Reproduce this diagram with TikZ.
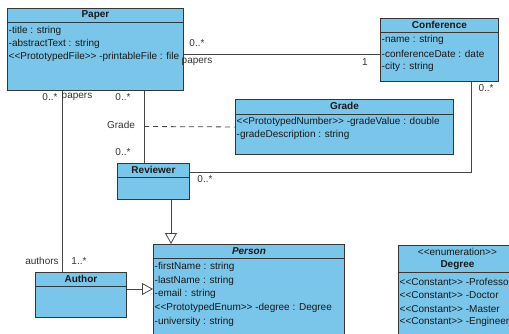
\documentclass[tikz,border=0pt]{standalone}
\usepackage{fontspec}
\newfontfamily\umlfont{Liberation Sans}
\usetikzlibrary{arrows.meta,calc}
\definecolor{classfill}{RGB}{122,198,235}
\definecolor{classline}{RGB}{55,55,55}
\definecolor{wire}{RGB}{70,70,70}
\definecolor{ink}{RGB}{25,25,25}
\begin{document}
\begin{tikzpicture}[x=1pt,y=-1pt,
  classbox/.style={draw=classline, fill=classfill, line width=0.9pt, inner sep=0pt, anchor=north west},
  classname/.style={font=\umlfont\fontsize{10}{12}\selectfont\bfseries, inner sep=0pt, text=ink},
  stereo/.style={font=\umlfont\fontsize{10}{12}\selectfont, inner sep=0pt, text=ink},
  attr/.style={font=\umlfont\fontsize{10}{12}\selectfont, inner sep=0pt, anchor=west, text=ink},
  role/.style={font=\umlfont\fontsize{10}{12}\selectfont, inner sep=0pt, text=black!80},
  sep/.style={draw=classline, line width=0.9pt},
  assoc/.style={draw=wire, line width=0.8pt},
  gen/.style={draw=wire, line width=0.8pt, -{Triangle[open, length=11pt, width=12pt, fill=white]}},
  dep/.style={draw=wire, line width=0.8pt, dash pattern=on 5pt off 4pt}]

\useasboundingbox (0,0) rectangle (509,333);

% ---------- classes ----------
\node[classbox, minimum width=176pt, minimum height=82pt] (paper) at (7,8) {};
\draw[sep] ($(paper.north west)+(0,14.5)$) -- ($(paper.north east)+(0,14.5)$);
\node[classname] (paper-name) at ($(paper.north)+(0,7.3)$) {Paper};
\foreach \t [count=\i] in {-title : string, -abstractText : string, <<PrototypedFile>> -printableFile : file}
  \node[attr] (paper-a\i) at ($(paper.north west)+(1.5,9.5+13.2*\i)$) {\t};

\node[classbox, minimum width=118pt, minimum height=63pt] (conf) at (380,18) {};
\draw[sep] ($(conf.north west)+(0,14)$) -- ($(conf.north east)+(0,14)$);
\node[classname] (conf-name) at ($(conf.north)+(0,7)$) {Conference};
\foreach \t [count=\i] in {-name : string, -conferenceDate : date, -city : string}
  \node[attr] (conf-a\i) at ($(conf.north west)+(1.5,8.7+13.5*\i)$) {\t};

\node[classbox, minimum width=218pt, minimum height=55pt] (grade) at (235,99) {};
\draw[sep] ($(grade.north west)+(0,15)$) -- ($(grade.north east)+(0,15)$);
\node[classname] (grade-name) at ($(grade.north)+(0,7.3)$) {Grade};
\foreach \t [count=\i] in {<<PrototypedNumber>> -gradeValue : double, -gradeDescription : string}
  \node[attr] (grade-a\i) at ($(grade.north west)+(1.5,10+13.2*\i)$) {\t};

\node[classbox, minimum width=72pt, minimum height=36pt] (reviewer) at (117,163) {};
\draw[sep] ($(reviewer.north west)+(0,14)$) -- ($(reviewer.north east)+(0,14)$);
\node[classname] (reviewer-name) at ($(reviewer.north)+(0,7)$) {Reviewer};

\node[classbox, minimum width=91pt, minimum height=45pt] (author) at (35,272) {};
\draw[sep] ($(author.north west)+(0,14)$) -- ($(author.north east)+(0,14)$);
\node[classname] (author-name) at ($(author.north)+(0,7)$) {Author};

\node[classbox, minimum width=191pt, minimum height=101pt] (person) at (153,244) {};
\draw[sep] ($(person.north west)+(0,14)$) -- ($(person.north east)+(0,14)$);
\node[classname, font=\umlfont\fontsize{10}{12}\selectfont\bfseries\itshape] (person-name) at ($(person.north)+(0,7.5)$) {Person};
\foreach \t [count=\i] in {-firstName : string, -lastName : string, -email : string, <<PrototypedEnum>> -degree : Degree, -university : string}
  \node[attr] (person-a\i) at ($(person.north west)+(1.5,9.3+13.7*\i)$) {\t};

\node[classbox, minimum width=118pt, minimum height=100pt] (degree) at (398,245) {};
\draw[sep] ($(degree.north west)+(0,27)$) -- ($(degree.north east)+(0,27)$);
\node[stereo] (degree-stereo) at ($(degree.north)+(0,6.5)$) {<<enumeration>>};
\node[classname] (degree-name) at ($(degree.north)+(0,20)$) {Degree};
\foreach \t [count=\i] in {<<Constant>> -Professor, <<Constant>> -Doctor, <<Constant>> -Master, <<Constant>> -Engineer}
  \node[attr] (degree-a\i) at ($(degree.north west)+(1.5,23.5+13.4*\i)$) {\t};

% ---------- connectors ----------
\coordinate (pcY) at (0,54);
\draw[assoc] (paper.east |- pcY) -- (conf.west |- pcY);

\coordinate (paX) at (62,0);
\draw[assoc] (paper.south -| paX) -- (author.north -| paX);

\coordinate (prX) at (144,0);
\draw[assoc] (paper.south -| prX) -- (reviewer.north -| prX);

\coordinate (gradeFoot) at (144,126.5);
\draw[dep] (gradeFoot) -- (grade.west);

\coordinate (crX) at (471,0);
\coordinate (crY) at (0,172);
\draw[assoc] (conf.south -| crX) -- (crX |- crY) -- (reviewer.east |- crY);

\coordinate (rpX) at (171,0);
\draw[gen] (reviewer.south -| rpX) -- (person.north -| rpX);

\coordinate (apY) at (0,289);
\draw[gen] (author.east |- apY) -- (person.west |- apY);

% ---------- association ends ----------
\node[role] (m-pc1) at (197,43) {0..*};
\node[role] (r-pc1) at (197,62) {papers};
\node[role] (m-pc2) at (365,62) {1};
\node[role] (m-cr1) at (486,88) {0..*};
\node[role] (m-pa1) at (50,97) {0..*};
\node[role] (r-pa1) at (77,97) {papers};
\node[role] (m-pr1) at (123,97) {0..*};
\node[role] (r-grade) at (121,125) {Grade};
\node[role] (m-pr2) at (123,152) {0..*};
\node[role] (m-cr2) at (205,179) {0..*};
\node[role] (r-pa2) at (42,261) {authors};
\node[role] (m-pa2) at (79,261) {1..*};
\end{tikzpicture}
\end{document}
